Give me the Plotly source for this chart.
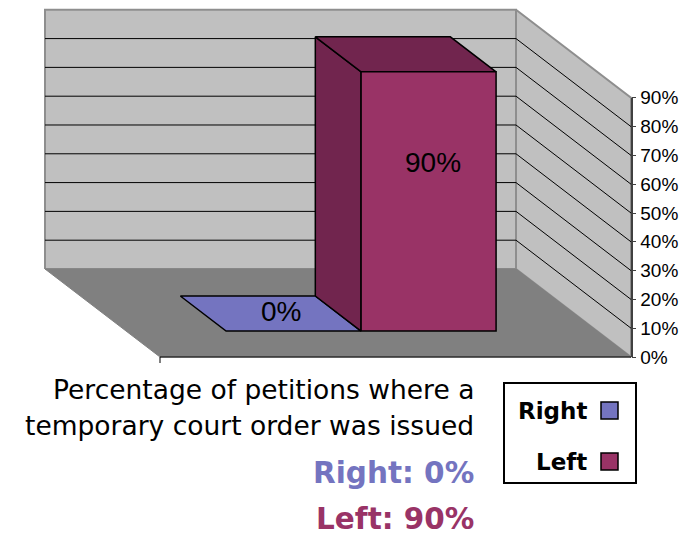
import plotly.graph_objects as go

# ---------------- data ----------------
series = ["Right", "Left"]
values = [0, 90]
front_colors = ["#7474C0", "#993366"]
top_colors = ["#7474C0", "#71254E"]
side_colors = ["#5E5E9E", "#71254E"]
tick_vals = [0, 10, 20, 30, 40, 50, 60, 70, 80, 90]
tick_text = [f"{v}%" for v in tick_vals]
caption_lines = ["Percentage of petitions where a",
                 "temporary court order was issued"]

# ---------------- geometry (layout only) ----------------
W, H = 680, 535
K = 2.88            # px per value unit
Y0PX = 357          # pixel row of value 0 on the front plane
DX = 115            # horizontal shift front -> back (px)
DV = 30.56          # vertical shift front -> back (value units)
U0, U1 = 160, 631   # category axis extent on the front plane
VMAX = 90
D_BACK, D_FRONT = 0.307, 0.705
BAR_W = 135
CLUSTER_C = 395


def P(u, v, d):
    return (u - (1 - d) * DX, v + (1 - d) * DV)


def pyv(px_y):
    """pixel row -> y data value"""
    return (Y0PX - px_y) / K


def poly(pts, fill, lc, lw):
    xs = [p[0] for p in pts] + [pts[0][0]]
    ys = [p[1] for p in pts] + [pts[0][1]]
    return go.Scatter(x=xs, y=ys, mode="lines", fill="toself", fillcolor=fill,
                      line=dict(color=lc, width=lw), hoverinfo="skip",
                      showlegend=False)


fig = go.Figure()

# walls and floor
fig.add_trace(poly([P(U0, 0, 0), P(U1, 0, 0), P(U1, VMAX, 0), P(U0, VMAX, 0)],
                   "#C0C0C0", "#8E8E8E", 2))
fig.add_trace(poly([P(U1, 0, 0), P(U1, 0, 1), P(U1, VMAX, 1), P(U1, VMAX, 0)],
                   "#C0C0C0", "#8E8E8E", 2))
fig.add_trace(poly([P(U0, 0, 0), P(U1, 0, 0), P(U1, 0, 1), P(U0, 0, 1)],
                   "#808080", "#808080", 1))

# gridlines (back wall + side wall)
gx, gy = [], []
for v in tick_vals[1:-1]:
    a, b, c = P(U0, v, 0), P(U1, v, 0), P(U1, v, 1)
    gx += [a[0], b[0], c[0], None]
    gy += [a[1], b[1], c[1], None]
fig.add_trace(go.Scatter(x=gx, y=gy, mode="lines", line=dict(color="#000000", width=1),
                         hoverinfo="skip", showlegend=False))

# bars
n = len(series)
for i, (name, val) in enumerate(zip(series, values)):
    u0 = CLUSTER_C + (i - n / 2) * BAR_W
    u1 = u0 + BAR_W
    if val > 0:
        fig.add_trace(poly([P(u0, 0, D_BACK), P(u0, 0, D_FRONT), P(u0, val, D_FRONT), P(u0, val, D_BACK)],
                           side_colors[i], "#000000", 1.5))
    fig.add_trace(poly([P(u0, val, D_BACK), P(u1, val, D_BACK), P(u1, val, D_FRONT), P(u0, val, D_FRONT)],
                       top_colors[i], "#000000", 1.5))
    if val > 0:
        fig.add_trace(poly([P(u0, 0, D_FRONT), P(u1, 0, D_FRONT), P(u1, val, D_FRONT), P(u0, val, D_FRONT)],
                           front_colors[i], "#000000", 1.5))

# category axis line and tick
fa, fb = P(U0, 0, 1), P(U1, 0, 1)
fig.add_trace(go.Scatter(x=[fa[0], fb[0], None, fa[0], fa[0]],
                         y=[fa[1], fb[1], None, fa[1], fa[1] - 6 / K],
                         mode="lines", line=dict(color="#000000", width=1),
                         hoverinfo="skip", showlegend=False))

# data labels
for i, (name, val) in enumerate(zip(series, values)):
    u0 = CLUSTER_C + (i - n / 2) * BAR_W
    u1 = u0 + BAR_W
    if val > 0:
        cx, cy = P((u0 + u1) / 2, 0, D_FRONT)
        fig.add_annotation(x=cx, y=cy + val * 0.65, text=f"{val}%", showarrow=False,
                           xshift=4, font=dict(family="Liberation Sans, Arial", size=28, color="#000000"))
    else:
        cx, cy = P((u0 + u1) / 2, 0, (D_BACK + D_FRONT) / 2)
        fig.add_annotation(x=cx, y=cy, text=f"{val}%", showarrow=False, xshift=10, yshift=2,
                           font=dict(family="Liberation Sans, Arial", size=28, color="#000000"))

# invisible trace for value axis
fig.add_trace(go.Scatter(x=[U1, U1], y=[0, VMAX], yaxis="y2", mode="markers",
                         marker=dict(opacity=0), hoverinfo="skip", showlegend=False))

# caption
cap_y = [389, 425]
for line, py in zip(caption_lines, cap_y):
    fig.add_annotation(x=476 / W, y=(H - py) / H, xref="paper", yref="paper",
                       xanchor="right", yanchor="middle", text=line, showarrow=False,
                       font=dict(family="DejaVu Sans", size=26.5, color="#000000"))
sum_y = [473, 519]
for i, (name, val) in enumerate(zip(series, values)):
    fig.add_annotation(x=476 / W, y=(H - sum_y[i]) / H, xref="paper", yref="paper",
                       xanchor="right", yanchor="middle", text=f"<b>{name}: {val}%</b>",
                       showarrow=False,
                       font=dict(family="DejaVu Sans", size=29.5, color=front_colors[i]))

# custom legend
fig.add_shape(type="rect", xref="paper", yref="paper",
              x0=504 / W, x1=636 / W, y0=(H - 483) / H, y1=(H - 383) / H,
              line=dict(color="#000000", width=2), fillcolor="rgba(0,0,0,0)")
leg_y = [410.5, 461.5]
for i, name in enumerate(series):
    fig.add_trace(go.Scatter(x=[609.5], y=[pyv(leg_y[i])], mode="markers", name=name,
                             marker=dict(symbol="square", size=17, color=front_colors[i],
                                         line=dict(color="#000000", width=1.5)),
                             hoverinfo="skip", showlegend=False))
    fig.add_annotation(x=589 / W, y=(H - leg_y[i]) / H, xref="paper", yref="paper",
                       xanchor="right", yanchor="middle", text=f"<b>{name}</b>",
                       showarrow=False, font=dict(family="DejaVu Sans", size=23, color="#000000"))

fig.update_layout(
    width=W, height=H, margin=dict(l=0, r=0, t=0, b=0, pad=0, autoexpand=False),
    paper_bgcolor="#FFFFFF", plot_bgcolor="rgba(0,0,0,0)",
    showlegend=False,
    xaxis=dict(range=[0, W], visible=False, fixedrange=True, automargin=False),
    yaxis=dict(range=[pyv(H), pyv(0)], visible=False, fixedrange=True, automargin=False),
    yaxis2=dict(domain=[(H - Y0PX) / H, (H - (Y0PX - VMAX * K)) / H], range=[0, VMAX],
                anchor="free", position=631.7 / W, side="right", automargin=False,
                tickvals=tick_vals, ticktext=tick_text, ticks="outside", ticklen=4,
                tickcolor="#404040", showline=True, linecolor="#404040", linewidth=1.5,
                showgrid=False, zeroline=False, fixedrange=True,
                tickfont=dict(family="Arial, Liberation Sans", size=19, color="#000000")),
)

fig.write_html("out.html", config={"displayModeBar": False},
               post_script="document.body.style.margin='0';document.body.style.overflow='hidden';")
